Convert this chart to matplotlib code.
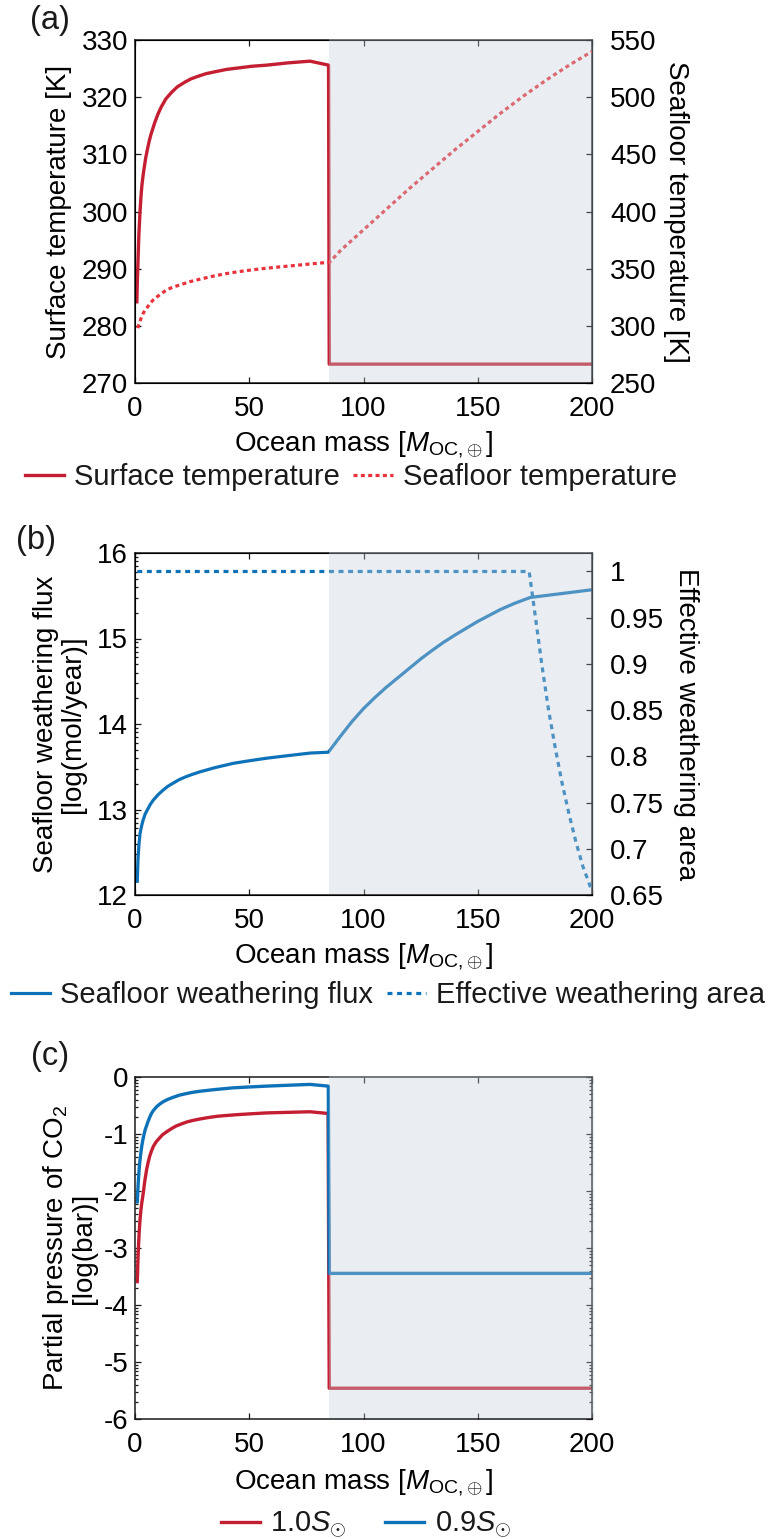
import numpy as np
import matplotlib.pyplot as plt
import matplotlib.transforms as mtransforms
from matplotlib.patches import Rectangle
from matplotlib.ticker import FixedLocator, FormatStrFormatter

plt.rcParams['font.family'] = ['Liberation Sans', 'DejaVu Sans']
plt.rcParams['mathtext.fontset'] = 'custom'
plt.rcParams['mathtext.rm'] = 'Liberation Sans'
plt.rcParams['mathtext.it'] = 'Liberation Sans:italic'
plt.rcParams['axes.unicode_minus'] = False
plt.rcParams['font.size'] = 20
plt.rcParams['text.color'] = '#1a1a1a'

# --- (a) temperatures ---
ocean_surf = [0.8, 1.0, 1.2, 1.45, 1.7, 2.2, 2.6, 3.0, 3.5, 4.0, 4.7, 5.5, 6.2, 7.0,
              8.6, 10.0, 11.5, 13.5, 15.9, 18.5, 21.7, 24.5, 27.2, 31.0, 35.7, 40.0,
              45.0, 51.0, 57.6, 67.0, 76.6, 84.7, 85.0, 200.0]
t_surface = [284.2, 287.5, 290.0, 293.0, 296.0, 300.0, 302.5, 304.5, 306.2, 307.6,
             309.4, 311.0, 312.3, 313.5, 315.5, 317.0, 318.3, 319.7, 320.8, 321.8,
             322.6, 323.2, 323.6, 324.1, 324.5, 324.85, 325.1, 325.4, 325.6, 326.0,
             326.3, 325.6, 273.3, 273.3]

ocean_floor = [1.2, 1.6, 2.0, 2.8, 3.6, 4.5, 5.5, 6.7, 8.0, 10.0, 12.0, 13.9, 16.5,
               19.7, 24.0, 28.4, 35.0, 40.0, 45.0, 51.0, 57.6, 64.0, 70.0, 77.0, 84.5,
               85.3, 90, 100, 110, 120, 130, 140, 150, 160, 170, 180, 190, 200]
t_seafloor = [298.0, 300.5, 303.0, 307.5, 311.0, 314.0, 316.5, 319.8, 322.7, 325.9,
              328.9, 331.5, 333.8, 335.8, 338.6, 340.8, 343.8, 345.7, 347.3, 348.9,
              350.4, 351.7, 352.8, 354.2, 355.5, 356.0, 366, 384, 402, 420, 437, 454,
              470, 486, 501, 515, 528, 540]

# --- (b) seafloor weathering ---
ocean_flux = [1.0, 1.3, 1.7, 2.2, 2.9, 3.6, 4.5, 5.5, 6.7, 8.0, 10.0, 12.0, 14.3, 16.8,
              19.4, 22.0, 25.0, 28.4, 35.0, 43.0, 50.0, 57.6, 67.0, 76.6, 84.6, 90, 95,
              100, 105, 110, 115, 120, 125, 130, 135, 140, 145, 150, 155, 160, 166,
              173, 200]
log_flux = [12.16, 12.41, 12.58, 12.72, 12.81, 12.88, 12.95, 13.0, 13.06, 13.11, 13.17,
            13.22, 13.27, 13.31, 13.35, 13.38, 13.41, 13.44, 13.49, 13.54, 13.57, 13.60,
            13.63, 13.66, 13.67, 13.86, 14.03, 14.18, 14.31, 14.43, 14.54, 14.65, 14.76,
            14.86, 14.955, 15.04, 15.12, 15.20, 15.27, 15.34, 15.41, 15.48, 15.57]

ocean_area = [1.0, 172.5, 175, 178, 181, 184, 187, 190, 193, 196, 200]
eff_area = [1.0, 1.0, 0.955, 0.900, 0.850, 0.808, 0.770, 0.737, 0.707, 0.681, 0.654]

# --- (c) CO2 partial pressure ---
ocean_co2_10 = [1.0, 1.3, 1.6, 1.9, 2.2, 2.6, 3.0, 3.6, 4.3, 5.1, 5.8, 6.5, 7.2, 8.0,
                9.2, 10.5, 12.0, 13.9, 16.0, 18.0, 20.2, 22.6, 25.0, 28.0, 31.5, 35.8,
                40.0, 45.0, 51.0, 57.6, 67.0, 76.6, 84.5, 85.0, 200.0]
pco2_10 = [-3.59, -3.2, -2.9, -2.68, -2.5, -2.33, -2.2, -2.04, -1.82, -1.62, -1.49,
           -1.38, -1.3, -1.22, -1.14, -1.08, -1.015, -0.96, -0.905, -0.86, -0.825,
           -0.79, -0.765, -0.74, -0.715, -0.69, -0.675, -0.66, -0.645, -0.63, -0.62,
           -0.61, -0.64, -5.46, -5.46]
ocean_co2_09 = [1.0, 1.25, 1.5, 1.85, 2.2, 2.6, 3.0, 3.5, 4.0, 4.5, 5.1, 5.8, 6.5, 7.2,
                8.0, 9.5, 11.0, 12.5, 14.5, 16.8, 19.3, 22.0, 25.0, 28.4, 35.0, 43.0,
                50.0, 57.6, 70.0, 76.6, 84.6, 85.0, 200.0]
pco2_09 = [-2.19, -1.98, -1.8, -1.6, -1.45, -1.32, -1.2, -1.09, -1.0, -0.92, -0.85,
           -0.77, -0.70, -0.64, -0.59, -0.52, -0.47, -0.43, -0.39, -0.355, -0.32,
           -0.295, -0.27, -0.25, -0.22, -0.19, -0.175, -0.16, -0.14, -0.13, -0.16,
           -3.445, -3.445]

shade_start, shade_end = 84.8, 200
x_ticks = [0, 50, 100, 150, 200]

RED = '#c41e32'
RED_DOT = '#e8323c'
BLUE = '#0e72b8'
SHADE = '#c3ced7'
XLABEL = r'Ocean mass [$M_{\mathrm{OC,}\!\oplus}$]'
LEG_SIZE = 21

W, H = 769, 1539
fig = plt.figure(figsize=(W / 100, H / 100), dpi=100)


def box(left, top, right, bottom):
    return [left / W, 1 - bottom / H, (right - left) / W, (bottom - top) / H]


def base_style(ax):
    ax.set_xlim(0, 200)
    ax.set_xticks(x_ticks)
    for s in ax.spines.values():
        s.set_linewidth(1.1)
        s.set_color('#1a1a1a')
    ax.tick_params(which='both', direction='in', top=True, color='#1a1a1a', width=0.9)
    ax.tick_params(which='major', length=4)
    ax.tick_params(which='minor', length=2.2)
    ax.tick_params(axis='x', pad=9)
    ax.tick_params(axis='y', pad=5)


def log_minor(lo, hi):
    return [n + np.log10(k) for n in range(lo, hi) for k in range(2, 10)]


def shade(ax):
    trans = mtransforms.blended_transform_factory(ax.transData, ax.transAxes)
    ax.add_patch(Rectangle((shade_start, 0.002), shade_end - shade_start + 1.0, 1.002,
                           transform=trans, facecolor=SHADE, edgecolor='none',
                           alpha=0.35, zorder=10, clip_on=False))


# (a)
ax_a = fig.add_axes(box(135, 40, 592, 383))
base_style(ax_a)
ax_a.tick_params(axis='y', right=False)
ax_a.plot(ocean_surf, t_surface, color=RED, lw=2.4, label='Surface temperature')
ax_a.set_ylim(270, 330)
ax_a.set_yticks(range(270, 331, 10))
ax_a.set_ylabel('Surface temperature [K]')
ax_a.yaxis.set_label_coords(-0.138, 0.5)
ax_a.set_xlabel(XLABEL)
ax_a.xaxis.set_label_coords(0.5, -0.135)

ax_a2 = ax_a.twinx()
ax_a2.plot(ocean_floor, t_seafloor, color=RED_DOT, lw=2.3, ls=(0, (1.25, 1.05)),
           dash_capstyle='butt', label='Seafloor temperature')
ax_a2.set_ylim(250, 550)
ax_a2.set_yticks(range(250, 551, 50))
ax_a2.tick_params(axis='y', direction='in', length=4, width=0.9, pad=13)
ax_a2.set_ylabel('Seafloor temperature [K]', rotation=270, va='bottom')
ax_a2.yaxis.set_label_coords(1.155, 0.5)
shade(ax_a2)

h1, l1 = ax_a.get_legend_handles_labels()
h2, l2 = ax_a2.get_legend_handles_labels()
fig.legend(h1 + h2, l1 + l2, loc='center', bbox_to_anchor=(351 / W, 1 - 477 / H),
           ncol=2, frameon=False, fontsize=LEG_SIZE, handlelength=1.35,
           handletextpad=0.35, columnspacing=0.45, borderpad=0, borderaxespad=0)

# (b)
ax_b = fig.add_axes(box(135, 553, 592, 895))
base_style(ax_b)
ax_b.tick_params(axis='y', which='both', right=False)
ax_b.plot(ocean_flux, log_flux, color=BLUE, lw=2.3, label='Seafloor weathering flux')
ax_b.set_ylim(12, 16)
ax_b.set_yticks(range(12, 17))
ax_b.yaxis.set_minor_locator(FixedLocator(log_minor(12, 16)))
ax_b.set_ylabel('Seafloor weathering flux\n[log(mol/year)]', linespacing=1.05)
ax_b.yaxis.set_label_coords(-0.107, 0.5)
ax_b.set_xlabel(XLABEL)
ax_b.xaxis.set_label_coords(0.5, -0.135)

ax_b2 = ax_b.twinx()
ax_b2.plot(ocean_area, eff_area, color=BLUE, lw=2.3, ls=(0, (1.55, 1.45)),
           dash_capstyle='butt', label='Effective weathering area')
ax_b2.set_ylim(0.65, 1.02)
ax_b2.set_yticks(np.arange(0.65, 1.001, 0.05))
ax_b2.yaxis.set_major_formatter(FormatStrFormatter('%g'))
ax_b2.tick_params(axis='y', direction='in', length=4, width=0.9, pad=13)
ax_b2.set_ylabel('Effective weathering area', rotation=270, va='bottom')
ax_b2.yaxis.set_label_coords(1.178, 0.5)
shade(ax_b2)

h1, l1 = ax_b.get_legend_handles_labels()
h2, l2 = ax_b2.get_legend_handles_labels()
fig.legend(h1 + h2, l1 + l2, loc='center', bbox_to_anchor=(388 / W, 1 - 995 / H),
           ncol=2, frameon=False, fontsize=LEG_SIZE, handlelength=1.35,
           handletextpad=0.35, columnspacing=0.45, borderpad=0, borderaxespad=0)

# (c)
ax_c = fig.add_axes(box(135, 1077, 592, 1419))
base_style(ax_c)
ax_c.tick_params(axis='y', which='both', right=True)
ax_c.plot(ocean_co2_10, pco2_10, color=RED, lw=2.4, label=r'1.0$S_{\odot}$')
ax_c.plot(ocean_co2_09, pco2_09, color=BLUE, lw=2.4, label=r'0.9$S_{\odot}$')
ax_c.set_ylim(-6, 0)
ax_c.set_yticks(range(-6, 1))
ax_c.yaxis.set_minor_locator(FixedLocator(log_minor(-6, 0)))
ax_c.set_ylabel('Partial pressure of CO$_2$\n[log(bar)]', linespacing=1.0)
ax_c.yaxis.set_label_coords(-0.083, 0.5)
ax_c.set_xlabel(XLABEL)
ax_c.xaxis.set_label_coords(0.5, -0.14)
shade(ax_c)

ax_c.legend(loc='center', bbox_to_anchor=(366 / W, 1 - 1525 / H),
            bbox_transform=fig.transFigure, ncol=2, frameon=False, fontsize=LEG_SIZE,
            handlelength=1.35, handletextpad=0.35, columnspacing=1.3, borderpad=0,
            borderaxespad=0)

# panel letters
for letter, (px, py) in zip(['(a)', '(b)', '(c)'], [(50, 20), (36, 540), (50, 1057)]):
    fig.text(px / W, 1 - py / H, letter, ha='center', va='center', fontsize=23.5)

fig.savefig('out.png', dpi=100)
